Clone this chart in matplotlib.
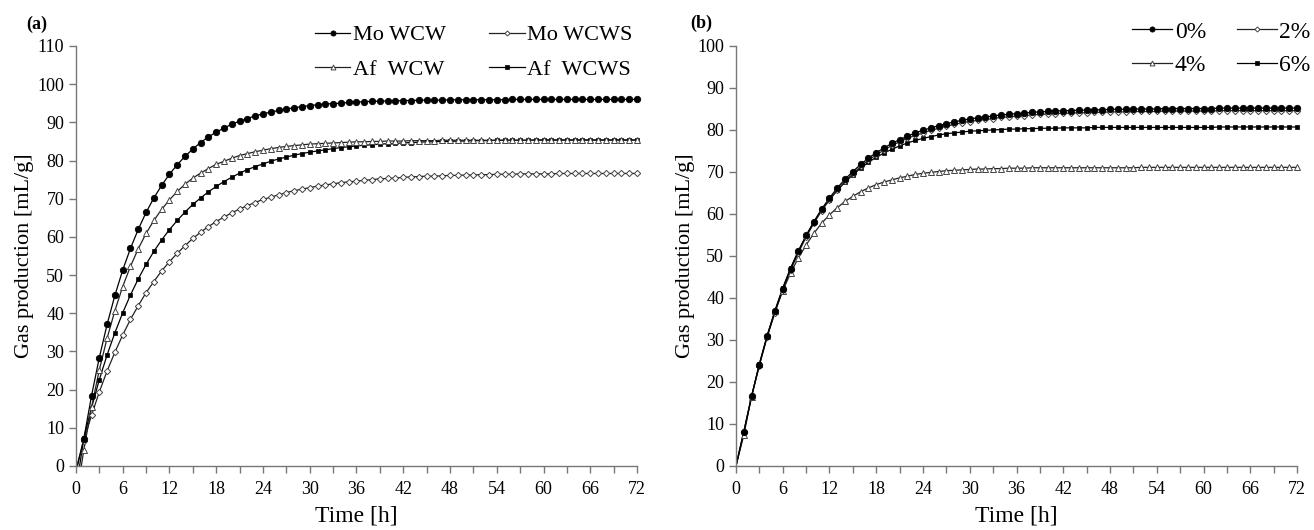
import matplotlib
matplotlib.use("Agg")
import matplotlib.pyplot as plt
from matplotlib.lines import Line2D

plt.rcParams['font.family'] = ['Liberation Serif', 'DejaVu Serif']

hours = list(range(73))

# panel (a): gas production of the four substrates
mo_wcw = [-6.1, 7.0, 18.4, 28.4, 37.1, 44.7, 51.3, 57.0, 62.0, 66.4,
          70.2, 73.5, 76.4, 78.9, 81.1, 83.0, 84.7, 86.2, 87.4, 88.5,
          89.5, 90.3, 91.0, 91.7, 92.2, 92.7, 93.1, 93.5, 93.8, 94.1,
          94.4, 94.6, 94.8, 94.9, 95.0, 95.2, 95.3, 95.4, 95.5, 95.5,
          95.6, 95.6, 95.7, 95.7, 95.8, 95.8, 95.8, 95.8, 95.9, 95.9,
          95.9, 95.9, 95.9, 95.9, 95.9, 95.9, 96.0, 96.0, 96.0, 96.0,
          96.0, 96.0, 96.0, 96.0, 96.0, 96.0, 96.0, 96.0, 96.0, 96.0,
          96.0, 96.0, 96.0]
mo_wcws = [-0.8, 6.6, 13.3, 19.4, 24.9, 29.8, 34.3, 38.4, 42.0, 45.4,
           48.3, 51.1, 53.5, 55.7, 57.7, 59.6, 61.2, 62.7, 64.0, 65.2,
           66.3, 67.3, 68.2, 69.0, 69.8, 70.4, 71.0, 71.6, 72.1, 72.5,
           72.9, 73.3, 73.6, 73.9, 74.2, 74.4, 74.6, 74.8, 75.0, 75.2,
           75.3, 75.4, 75.6, 75.7, 75.8, 75.9, 75.9, 76.0, 76.1, 76.1,
           76.2, 76.2, 76.3, 76.3, 76.4, 76.4, 76.4, 76.5, 76.5, 76.5,
           76.5, 76.5, 76.6, 76.6, 76.6, 76.6, 76.6, 76.6, 76.6, 76.6,
           76.6, 76.6, 76.6]
af_wcw = [-9.0, 4.1, 15.4, 25.2, 33.5, 40.7, 47.0, 52.3, 56.9, 60.9,
          64.3, 67.2, 69.7, 71.9, 73.8, 75.4, 76.7, 77.9, 79.0, 79.8,
          80.6, 81.3, 81.8, 82.3, 82.7, 83.1, 83.4, 83.7, 83.9, 84.1,
          84.3, 84.4, 84.5, 84.6, 84.7, 84.8, 84.9, 84.9, 85.0, 85.0,
          85.1, 85.1, 85.1, 85.2, 85.2, 85.2, 85.2, 85.3, 85.3, 85.3,
          85.3, 85.3, 85.3, 85.3, 85.3, 85.3, 85.3, 85.3, 85.3, 85.3,
          85.3, 85.3, 85.3, 85.3, 85.3, 85.3, 85.3, 85.3, 85.3, 85.3,
          85.3, 85.3, 85.3]
af_wcws = [-1.8, 7.2, 15.3, 22.6, 29.1, 34.9, 40.1, 44.8, 49.0, 52.8,
           56.2, 59.2, 61.9, 64.3, 66.5, 68.5, 70.2, 71.8, 73.2, 74.5,
           75.6, 76.7, 77.6, 78.4, 79.1, 79.8, 80.4, 80.9, 81.4, 81.8,
           82.2, 82.5, 82.8, 83.1, 83.4, 83.6, 83.8, 84.0, 84.1, 84.3,
           84.4, 84.5, 84.6, 84.7, 84.8, 84.9, 84.9, 85.0, 85.0, 85.1,
           85.1, 85.2, 85.2, 85.2, 85.3, 85.3, 85.3, 85.3, 85.3, 85.4,
           85.4, 85.4, 85.4, 85.4, 85.4, 85.4, 85.4, 85.4, 85.4, 85.4,
           85.4, 85.4, 85.4]

# panel (b): inclusion levels
pct0 = [0.0, 8.1, 16.6, 24.1, 30.9, 36.8, 42.2, 46.9, 51.1, 54.9,
        58.2, 61.2, 63.8, 66.2, 68.3, 70.1, 71.8, 73.3, 74.6, 75.7,
        76.8, 77.7, 78.5, 79.3, 79.9, 80.5, 81.0, 81.5, 81.9, 82.3,
        82.6, 82.9, 83.1, 83.3, 83.6, 83.7, 83.9, 84.0, 84.2, 84.3,
        84.4, 84.5, 84.6, 84.6, 84.7, 84.7, 84.8, 84.8, 84.9, 84.9,
        84.9, 85.0, 85.0, 85.0, 85.0, 85.1, 85.1, 85.1, 85.1, 85.1,
        85.1, 85.1, 85.2, 85.2, 85.2, 85.2, 85.2, 85.2, 85.2, 85.2,
        85.2, 85.2, 85.2]
pct2 = [0.0, 8.0, 16.5, 23.9, 30.7, 36.5, 41.9, 46.6, 50.7, 54.5,
        57.8, 60.8, 63.4, 65.7, 67.8, 69.6, 71.3, 72.8, 74.1, 75.2,
        76.3, 77.2, 78.0, 78.7, 79.3, 79.9, 80.4, 80.9, 81.3, 81.7,
        82.0, 82.3, 82.5, 82.7, 83.0, 83.1, 83.3, 83.4, 83.6, 83.7,
        83.8, 83.9, 84.0, 84.0, 84.1, 84.1, 84.2, 84.2, 84.3, 84.3,
        84.3, 84.4, 84.4, 84.4, 84.4, 84.5, 84.5, 84.5, 84.5, 84.5,
        84.5, 84.5, 84.6, 84.6, 84.6, 84.6, 84.6, 84.6, 84.6, 84.6,
        84.6, 84.6, 84.6]
pct4 = [0.0, 7.3, 16.5, 24.3, 31.0, 36.8, 41.7, 45.9, 49.5, 52.6,
        55.4, 57.8, 59.8, 61.5, 63.0, 64.2, 65.3, 66.2, 67.0, 67.6,
        68.1, 68.6, 69.0, 69.4, 69.7, 69.9, 70.1, 70.3, 70.4, 70.5,
        70.6, 70.7, 70.7, 70.8, 70.8, 70.9, 70.9, 70.9, 71.0, 71.0,
        71.0, 71.0, 71.0, 71.0, 71.0, 71.0, 71.0, 71.0, 71.0, 71.0,
        71.0, 71.0, 71.1, 71.1, 71.1, 71.1, 71.1, 71.1, 71.1, 71.1,
        71.1, 71.1, 71.1, 71.1, 71.1, 71.1, 71.1, 71.1, 71.1, 71.1,
        71.1, 71.1, 71.1]
pct6 = [0.0, 8.1, 16.6, 24.2, 31.0, 37.0, 42.4, 47.1, 51.2, 54.8,
        58.0, 60.9, 63.4, 65.6, 67.6, 69.3, 70.9, 72.3, 73.5, 74.5,
        75.4, 76.2, 76.9, 77.5, 78.0, 78.4, 78.8, 79.1, 79.3, 79.5,
        79.7, 79.8, 79.9, 80.0, 80.1, 80.2, 80.2, 80.3, 80.3, 80.4,
        80.4, 80.4, 80.5, 80.5, 80.5, 80.5, 80.6, 80.6, 80.6, 80.6,
        80.6, 80.6, 80.6, 80.6, 80.6, 80.6, 80.6, 80.6, 80.6, 80.6,
        80.6, 80.6, 80.7, 80.7, 80.7, 80.7, 80.7, 80.7, 80.7, 80.7,
        80.7, 80.7, 80.7]

#marker styles: filled circle, open diamond, open triangle, filled square
styles = {
    "circle": dict(marker="o", markersize=4.6, markerfacecolor="black", markeredgecolor="black", markeredgewidth=0.6),
    "diamond": dict(marker="D", markersize=3.2, markerfacecolor="white", markeredgecolor="#444444", markeredgewidth=0.7),
    "triangle": dict(marker="^", markersize=4.4, markerfacecolor="white", markeredgecolor="#444444", markeredgewidth=0.7),
    "square": dict(marker="s", markersize=3.4, markerfacecolor="black", markeredgecolor="black", markeredgewidth=0.5),
}


def draw_series(ax, y, style, color):
    #line is clipped at y=0, markers drawn unclipped from hour 1 on
    ax.plot(hours, y, color=color, lw=0.9, zorder=2)
    ax.plot(hours[1:], y[1:], linestyle="none", clip_on=False, zorder=3, **styles[style])


def handle(style, color):
    return Line2D([], [], color=color, lw=0.9, **styles[style])


def style_axis(ax, ymax):
    ax.set_xlim(0, 72)
    ax.set_ylim(0, ymax)
    ax.set_xticks(range(0, 73, 6))
    ax.set_xticks(range(0, 73, 3), minor=True)
    ax.set_yticks(range(0, ymax + 1, 10))
    for s in ["top", "right"]:
        ax.spines[s].set_visible(False)
    for s in ["left", "bottom"]:
        ax.spines[s].set_color("#777777")
        ax.spines[s].set_linewidth(1.0)
    ax.tick_params(which="both", direction="out", length=5, width=1.0, color="#777777",
                   labelsize=13)
    ax.tick_params(axis="x", pad=6)
    ax.set_xlabel("Time [h]", fontsize=17, labelpad=5)
    ax.set_ylabel("Gas production [mL/g]", fontsize=16, labelpad=2)


fig = plt.figure(figsize=(13.14, 5.30), dpi=100)
ax1 = fig.add_axes([0.0578, 0.1208, 0.427, 0.7925])
ax2 = fig.add_axes([0.5601, 0.1208, 0.427, 0.7925])

#panel (a)
draw_series(ax1, mo_wcws, "diamond", "#222222")
draw_series(ax1, af_wcws, "square", "black")
draw_series(ax1, af_wcw, "triangle", "#222222")
draw_series(ax1, mo_wcw, "circle", "black")
style_axis(ax1, 110)
h_a = [handle("circle", "black"), handle("triangle", "#222222"),
       handle("diamond", "#222222"), handle("square", "black")]
ax1.legend(h_a, ["Mo WCW", "Af  WCW", "Mo WCWS", "Af  WCWS"], ncol=2, frameon=False,
           loc="upper right", bbox_to_anchor=(1.027, 1.098), fontsize=16, markerscale=0.8,
           handlelength=1.6, handletextpad=0.1, columnspacing=1.95, labelspacing=0.62)

#panel (b)
draw_series(ax2, pct4, "triangle", "#222222")
draw_series(ax2, pct6, "square", "black")
draw_series(ax2, pct2, "diamond", "#222222")
draw_series(ax2, pct0, "circle", "black")
style_axis(ax2, 100)
h_b = [handle("circle", "black"), handle("triangle", "#222222"),
       handle("diamond", "#222222"), handle("square", "black")]
ax2.legend(h_b, ["0%", "4%", "2%", "6%"], ncol=2, frameon=False,
           loc="upper right", bbox_to_anchor=(1.062, 1.11), fontsize=17, markerscale=0.8,
           handlelength=1.7, handletextpad=0.1, columnspacing=1.3, labelspacing=0.5)

fig.text(0.028, 0.955, "(a)", fontsize=13, fontweight="bold", ha="center", va="center")
fig.text(0.534, 0.956, "(b)", fontsize=13, fontweight="bold", ha="center", va="center")

fig.savefig("out.png", dpi=100)
